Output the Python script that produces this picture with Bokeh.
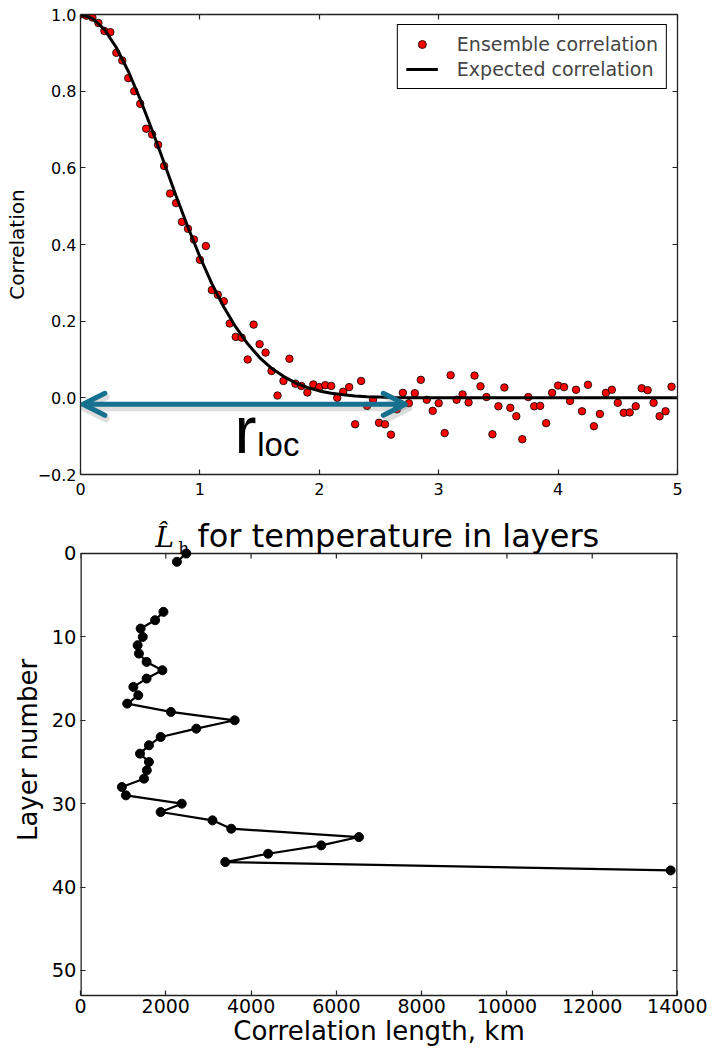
from bokeh.plotting import figure
from bokeh.models import (Range1d, FixedTicker, LinearAxis, Legend, LegendItem,
                          Arrow, OpenHead, Label, CustomJSTickFormatter)
from bokeh.layouts import column
from bokeh.embed import file_html
from bokeh.resources import INLINE

# ---------------- data: top panel ----------------
distance = [0.00, 0.05, 0.10, 0.15, 0.20, 0.25, 0.30, 0.35, 0.40, 0.45,
            0.50, 0.55, 0.60, 0.65, 0.70, 0.75, 0.80, 0.85, 0.90, 0.95,
            1.00, 1.05, 1.10, 1.15, 1.20, 1.25, 1.30, 1.35, 1.40, 1.45,
            1.50, 1.55, 1.60, 1.65, 1.70, 1.75, 1.80, 1.85, 1.90, 1.95,
            2.00, 2.05, 2.10, 2.15, 2.20, 2.25, 2.30, 2.35, 2.40, 2.45,
            2.50, 2.55, 2.60, 2.65, 2.70, 2.75, 2.80, 2.85, 2.90, 2.95,
            3.00, 3.05, 3.10, 3.15, 3.20, 3.25, 3.30, 3.35, 3.40, 3.45,
            3.50, 3.55, 3.60, 3.65, 3.70, 3.75, 3.80, 3.85, 3.90, 3.95,
            4.00, 4.05, 4.10, 4.15, 4.20, 4.25, 4.30, 4.35, 4.40, 4.45,
            4.50, 4.55, 4.60, 4.65, 4.70, 4.75, 4.80, 4.85, 4.90, 4.95]
ensemble_corr = [1.000, 0.997, 0.992, 0.978, 0.957, 0.954, 0.900, 0.880, 0.834, 0.800,
                 0.767, 0.702, 0.687, 0.660, 0.605, 0.533, 0.508, 0.459, 0.441, 0.413,
                 0.360, 0.396, 0.281, 0.269, 0.252, 0.194, 0.159, 0.157, 0.100, 0.191,
                 0.140, 0.118, 0.070, 0.006, 0.044, 0.102, 0.037, 0.031, 0.014, 0.035,
                 0.028, 0.033, 0.031, 0.000, 0.016, 0.028, -0.069, 0.044, -0.021, -0.005,
                 -0.065, -0.069, -0.096, -0.030, 0.013, -0.014, 0.012, 0.047, -0.005, -0.034,
                 -0.014, -0.092, 0.059, -0.005, 0.009, -0.012, 0.058, 0.030, 0.002, -0.095,
                 -0.022, 0.027, -0.026, -0.048, -0.108, 0.002, -0.022, -0.021, -0.066, 0.013,
                 0.032, 0.028, -0.008, 0.021, -0.035, 0.034, -0.074, -0.042, 0.013, 0.021,
                 -0.013, -0.039, -0.038, -0.022, 0.025, 0.020, -0.013, -0.048, -0.035, 0.029]
expected_x = [0.0, 0.1, 0.2, 0.3, 0.4, 0.5, 0.6, 0.7, 0.8, 0.9, 1.0, 1.1, 1.2, 1.3,
              1.4, 1.5, 1.6, 1.7, 1.8, 1.9, 2.0, 2.1, 2.2, 2.3, 2.4, 2.5, 2.6, 2.8,
              3.0, 4.0, 5.0]
expected_corr = [1.000, 0.990, 0.961, 0.914, 0.852, 0.779, 0.698, 0.613, 0.527, 0.445,
                 0.368, 0.298, 0.237, 0.185, 0.141, 0.105, 0.077, 0.056, 0.039, 0.027,
                 0.018, 0.012, 0.008, 0.005, 0.003, 0.002, 0.001, 0.000,
                 0.000, 0.000, 0.000]
top_xticks = [0, 1, 2, 3, 4, 5]
top_yticks = [-0.2, 0.0, 0.2, 0.4, 0.6, 0.8, 1.0]
top_ylabels = {-0.2: "\u22120.2", 0.0: "0.0", 0.2: "0.2", 0.4: "0.4",
               0.6: "0.6", 0.8: "0.8", 1.0: "1.0"}
rloc_start = 0.0
rloc_end = 2.72
rloc_level = -0.017

# ---------------- data: bottom panel ----------------
NaN = float("nan")
layer = [0, 1, 2, 3, 4, 5, 6, 7, 8, 9,
         10, 11, 12, 13, 14, 15, 16, 17, 18, 19,
         20, 21, 22, 23, 24, 25, 26, 27, 28, 29,
         30, 31, 32, 33, 34, 35, 36, 37, 38]
corr_length_km = [2480, 2260, NaN, NaN, NaN, NaN, NaN, 1945, 1750, 1410,
                  1460, 1340, 1370, 1550, 1920, 1550, 1240, 1355, 1095, 2120,
                  3615, 2715, 1880, 1605, 1395, 1605, 1555, 1490, 970, 1065,
                  2375, 1880, 3095, 3535, 6530, 5645, 4400, 3395, 13840]
bot_xticks = [0, 2000, 4000, 6000, 8000, 10000, 12000, 14000]
bot_yticks = [0, 10, 20, 30, 40, 50]
x_min, x_max = 0, 14000          # axes limits of the bottom panel
layer_top, layer_bottom = 0, 53
title_room = 5.875               # space above layer 0 kept for the panel title (in layers)

FONT = "DejaVu Sans"
TEAL = "#16708f"
AXC = "#222222"
W = 707
LB, RB = 80, 30


def style_axis(ax, size, ticks, labels=True):
    ax.ticker = FixedTicker(ticks=ticks)
    ax.major_tick_in = 5
    ax.major_tick_out = 0
    ax.minor_tick_line_color = None
    ax.minor_tick_in = 0
    ax.minor_tick_out = 0
    ax.axis_line_color = AXC
    ax.axis_line_width = 1.3
    ax.major_tick_line_color = AXC
    ax.major_tick_line_width = 1.2
    ax.major_label_text_font = FONT
    ax.major_label_text_font_size = size
    ax.major_label_text_color = "black"
    ax.axis_label_text_font = FONT
    ax.axis_label_text_font_style = "normal"
    ax.axis_label_text_color = "black"
    if not labels:
        ax.formatter = CustomJSTickFormatter(code="return ''")
        ax.major_label_standoff = 0
        ax.major_label_text_font_size = "1px"
        ax.axis_label_standoff = 0


# ================= top figure =================
p1 = figure(width=W, height=504, x_range=Range1d(0, 5), y_range=Range1d(-0.2, 1.0),
            title=None, output_backend="svg", toolbar_location=None,
            min_border_left=LB, min_border_right=RB, min_border_top=14, min_border_bottom=30)
p1.grid.visible = False
p1.outline_line_color = None
p1.background_fill_color = "white"
p1.border_fill_color = "white"
p1.add_layout(LinearAxis(), "right")
p1.add_layout(LinearAxis(), "above")

xb = p1.below[0]
style_axis(xb, "16px", top_xticks)
xb.major_label_standoff = 8
yl = p1.left[0]
style_axis(yl, "16px", top_yticks)
yl.major_label_overrides = top_ylabels
yl.major_label_standoff = 4
yl.axis_label = "Correlation"
yl.axis_label_text_font_size = "20px"
yl.axis_label_standoff = 6
style_axis(p1.right[0], "16px", top_yticks, labels=False)
style_axis(p1.above[0], "16px", top_xticks, labels=False)

r_ens = p1.scatter(distance, ensemble_corr, size=7.5, fill_color="#ff0000",
                   line_color="black", line_width=0.8)
r_exp = p1.line(expected_x, expected_corr, line_color="black", line_width=3)

legend = Legend(items=[LegendItem(label="Ensemble correlation", renderers=[r_ens]),
                       LegendItem(label="Expected correlation", renderers=[r_exp])],
                location="top_right", margin=10, padding=8, spacing=3,
                glyph_width=32, glyph_height=20, label_height=20, label_standoff=19,
                label_text_font=FONT, label_text_font_size="19px",
                border_line_color="black", border_line_width=1, border_line_alpha=1,
                background_fill_color="white", background_fill_alpha=1)
p1.add_layout(legend)

# shadow of the r_loc arrow
shadow = Arrow(start=OpenHead(size=22, line_color="#777777", line_alpha=0.25, line_width=7,
                              line_cap="round", line_join="round"),
               end=OpenHead(size=22, line_color="#777777", line_alpha=0.25, line_width=7,
                            line_cap="round", line_join="round"),
               x_start=rloc_start + 0.03, y_start=rloc_level - 0.009,
               x_end=rloc_end + 0.03, y_end=rloc_level - 0.009,
               line_color="#777777", line_alpha=0.25, line_width=7)
p1.add_layout(shadow)
arrow = Arrow(start=OpenHead(size=22, line_color=TEAL, line_width=5,
                             line_cap="round", line_join="round"),
              end=OpenHead(size=22, line_color=TEAL, line_width=5,
                           line_cap="round", line_join="round"),
              x_start=rloc_start + 0.02, y_start=rloc_level,
              x_end=rloc_end, y_end=rloc_level,
              line_color=TEAL, line_width=5)
p1.add_layout(arrow)

p1.add_layout(Label(x=1.29, y=-0.083, text="r", text_font="Liberation Sans",
                    text_font_size="66px", text_baseline="middle", text_align="left",
                    text_color="black"))
p1.add_layout(Label(x=1.48, y=-0.1205, text="loc", text_font="Liberation Sans",
                    text_font_size="33px", text_baseline="middle", text_align="left",
                    text_color="black"))

# ================= bottom figure (title sits inside the upper part of the canvas) ====
p2 = figure(width=W, height=544, x_range=Range1d(x_min, x_max),
            y_range=Range1d(layer_bottom, layer_top - title_room),
            title=None, output_backend="svg", toolbar_location=None,
            min_border_left=LB, min_border_right=RB, min_border_top=0, min_border_bottom=53)
p2.grid.visible = False
p2.outline_line_color = None
p2.background_fill_color = "white"
p2.border_fill_color = "white"
p2.add_layout(LinearAxis(), "right")

xb2 = p2.below[0]
style_axis(xb2, "19px", bot_xticks)
xb2.major_label_standoff = 3
xb2.axis_label = "Correlation length, km"
xb2.axis_label_text_font_size = "26px"
xb2.axis_label_standoff = 0
yl2 = p2.left[0]
style_axis(yl2, "19.5px", bot_yticks)
yl2.major_label_standoff = 4
yl2.axis_label = "Layer number"
yl2.axis_label_text_font_size = "26px"
yl2.axis_label_standoff = 6
yl2.axis_line_color = None
style_axis(p2.right[0], "19.5px", bot_yticks, labels=False)
p2.right[0].axis_line_color = None

# spines of the data box (layer 0 .. 53), drawn from the axis limits
p2.segment(x0=[x_min, x_max], y0=[layer_top, layer_top], x1=[x_min, x_max],
           y1=[layer_bottom, layer_bottom], line_color=AXC, line_width=2.6)
p2.segment(x0=[x_min], y0=[layer_top], x1=[x_max], y1=[layer_top],
           line_color=AXC, line_width=1.3)
# inward tick marks along the top edge, at the x tick positions
top_tick_len = 0.6  # in layers (about 5 px)
p2.segment(x0=bot_xticks, y0=[layer_top] * len(bot_xticks), x1=bot_xticks,
           y1=[layer_top + top_tick_len] * len(bot_xticks), line_color=AXC, line_width=1.2)

p2.line(corr_length_km, layer, line_color="black", line_width=2.2)
p2.scatter(corr_length_km, layer, size=9, fill_color="black", line_color="black")

# title: L-hat_h for temperature in layers (above layer 0)
p2.add_layout(Label(x=1759, y=-1.88, text="L\u0302", text_font="DejaVu Serif",
                    text_font_style="italic", text_font_size="28px",
                    text_baseline="middle", text_align="left", text_color="black"))
p2.add_layout(Label(x=2290, y=-0.71, text="h", text_font="DejaVu Serif",
                    text_font_size="17px", text_baseline="middle", text_align="left",
                    text_color="black"))
p2.add_layout(Label(x=2744, y=-2.05, text="for temperature in layers", text_font=FONT,
                    text_font_size="32px", text_baseline="middle", text_align="left",
                    text_color="black"))

layout = column(p1, p2, spacing=0)
open("out.html", "w").write(file_html(layout, INLINE))
